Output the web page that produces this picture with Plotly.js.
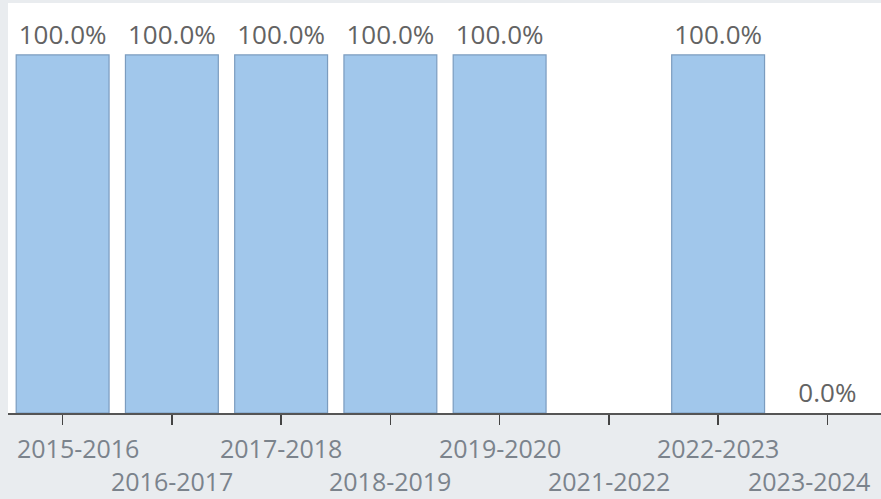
<!DOCTYPE html>
<html>
<head>
<meta charset="utf-8">
<script src="https://cdn.plot.ly/plotly-3.0.1.min.js"></script>
<style>html,body{margin:0;padding:0;background:#e9ecef;overflow:hidden;}</style>
</head>
<body>
<div id="chart"></div>
<script>
const categories = ["2015-2016","2016-2017","2017-2018","2018-2019","2019-2020","2021-2022","2022-2023","2023-2024"];
const values = [100, 100, 100, 100, 100, null, 100, 0];
const tickLabels = categories.slice();

const trace = {
  type: "bar",
  x: categories,
  y: values,
  marker: {color: "#a1c7eb", line: {color: "#7b9cbf", width: values.map(v => v ? 1.2 : 0)}},
  texttemplate: "%{y:.1f}%",
  textposition: "outside",
  constraintext: "none",
  cliponaxis: false,
  textfont: {family: "'Open Sans', sans-serif", size: 26, color: "#636363"},
  hoverinfo: "none"
};

const n = tickLabels.length;
const annotations = tickLabels.map((t, i) => ({
  text: t,
  x: categories[i],
  xref: "x",
  y: 0,
  yref: "paper",
  xanchor: "center",
  yanchor: "middle",
  yshift: i % 2 === 0 ? -35 : -68,
  xshift: i === 0 ? 15 : (i === n - 1 ? -18 : 0),
  showarrow: false,
  font: {family: "'Open Sans', sans-serif", size: 25, color: "#7b838c"}
}));

const layout = {
  width: 882, height: 499,
  margin: {l: 8, r: 0, t: 3, b: 86},
  paper_bgcolor: "#e9ecef",
  plot_bgcolor: "#ffffff",
  bargap: 0.15,
  showlegend: false,
  annotations: annotations,
  xaxis: {
    type: "category",
    tickmode: "array",
    tickvals: categories,
    ticktext: categories.map(() => ""),
    range: [-0.5, 7.5],
    showline: true, linecolor: "#555", linewidth: 2,
    ticks: "outside", ticklen: 10, tickwidth: 1.5, tickcolor: "#444",
    showgrid: false, zeroline: false, tickangle: 0
  },
  yaxis: {
    range: [0, 114.5],
    visible: false,
    showgrid: false, zeroline: false
  }
};

Plotly.newPlot("chart", [trace], layout, {displayModeBar: false, staticPlot: true});
</script>
</body>
</html>
